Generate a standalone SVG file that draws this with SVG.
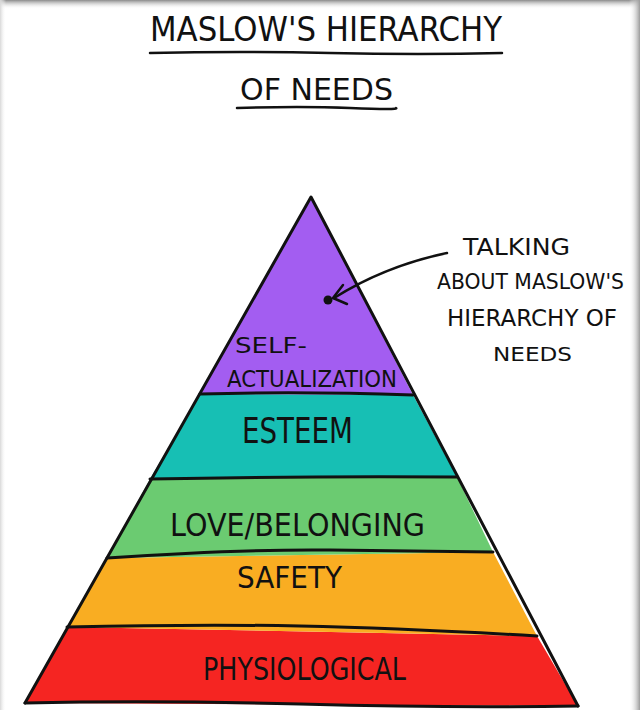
<svg xmlns="http://www.w3.org/2000/svg" width="640" height="710" viewBox="0 0 640 710">
  <defs>
    <linearGradient id="topShade" x1="0" y1="0" x2="0" y2="1">
      <stop offset="0" stop-color="#8a8a8a"/>
      <stop offset="1" stop-color="#ffffff" stop-opacity="0"/>
    </linearGradient>
    <linearGradient id="rightShade" x1="0" y1="0" x2="1" y2="0">
      <stop offset="0" stop-color="#ffffff" stop-opacity="0"/>
      <stop offset="1" stop-color="#9a9a9a"/>
    </linearGradient>
    <linearGradient id="leftShade" x1="0" y1="0" x2="1" y2="0">
      <stop offset="0" stop-color="#d8d8d8"/>
      <stop offset="1" stop-color="#ffffff" stop-opacity="0"/>
    </linearGradient>
    <style>
      .hand { font-family: "DejaVu Sans", "Liberation Sans", sans-serif; fill: #111; }
      .ink { fill: none; stroke: #111; stroke-width: 3; stroke-linecap: round; stroke-linejoin: round; }
      .thin { fill: none; stroke: #111; stroke-width: 2.5; stroke-linecap: round; stroke-linejoin: round; }
    </style>
  </defs>

  <rect width="640" height="710" fill="#ffffff"/>
  <rect x="0" y="0" width="640" height="9" fill="url(#topShade)"/>
  <rect x="629" y="0" width="11" height="710" fill="url(#rightShade)"/>
  <rect x="0" y="0" width="6" height="710" fill="url(#leftShade)"/>

  <g id="title">
    <text class="hand" x="150" y="41" font-size="34" textLength="352" lengthAdjust="spacingAndGlyphs">MASLOW'S HIERARCHY</text>
    <path class="thin" d="M150,53 Q240,51 330,53 T502,53"/>
    <text class="hand" x="240" y="100" font-size="31" textLength="153" lengthAdjust="spacingAndGlyphs">OF NEEDS</text>
    <path class="thin" d="M237,108 Q300,106 350,108 T396,108"/>
  </g>

  <g id="physiological">
    <polygon points="67,627 537,636 578,706 25,703" fill="#f52522"/>
    <text class="hand" x="203" y="680" font-size="32" textLength="203" lengthAdjust="spacingAndGlyphs">PHYSIOLOGICAL</text>
  </g>
  <g id="safety">
    <polygon points="107,558 493,552 537,636 67,627" fill="#f9ad22"/>
    <text class="hand" x="237" y="588" font-size="31" textLength="105" lengthAdjust="spacingAndGlyphs">SAFETY</text>
  </g>
  <g id="love-belonging">
    <polygon points="150,479 457,477 493,552 107,558" fill="#6bcb71"/>
    <text class="hand" x="170" y="536" font-size="32" textLength="255" lengthAdjust="spacingAndGlyphs">LOVE/BELONGING</text>
  </g>
  <g id="esteem">
    <polygon points="200,394 413,395 457,477 150,479" fill="#17bfb4"/>
    <text class="hand" x="242" y="443" font-size="35" textLength="111" lengthAdjust="spacingAndGlyphs">ESTEEM</text>
  </g>
  <g id="self-actualization">
    <polygon points="311,197 413,395 200,394" fill="#a35df1"/>
    <text class="hand" x="235" y="353" font-size="21" textLength="72" lengthAdjust="spacingAndGlyphs">SELF-</text>
    <text class="hand" x="227" y="387" font-size="23" textLength="170" lengthAdjust="spacingAndGlyphs">ACTUALIZATION</text>
  </g>

  <g id="pyramid-outline">
    <path class="ink" d="M25,703 L311,197 L578,706"/>
    <path class="ink" d="M200,394 Q300,391 413,395"/>
    <path class="ink" d="M150,479 Q300,476 457,477"/>
    <path class="ink" d="M107,558 Q240,549 330,550 T493,552"/>
    <path class="ink" d="M67,627 Q200,624 300,626 T537,636"/>
    <path class="ink" d="M25,703 Q150,700 300,704 T578,706"/>
  </g>

  <g id="annotation">
    <text class="hand" x="463" y="255" font-size="23" textLength="107" lengthAdjust="spacingAndGlyphs">TALKING</text>
    <text class="hand" x="437" y="289" font-size="21" textLength="187" lengthAdjust="spacingAndGlyphs">ABOUT MASLOW'S</text>
    <text class="hand" x="447" y="326" font-size="23" textLength="170" lengthAdjust="spacingAndGlyphs">HIERARCHY OF</text>
    <text class="hand" x="493" y="361" font-size="20" textLength="79" lengthAdjust="spacingAndGlyphs">NEEDS</text>
  </g>

  <g id="connectors">
    <circle cx="328" cy="300" r="4.5" fill="#111"/>
    <path class="thin" d="M447,253 Q385,266 334,298"/>
    <path class="thin" d="M343,285 L333,298 L347,304"/>
  </g>
</svg>
